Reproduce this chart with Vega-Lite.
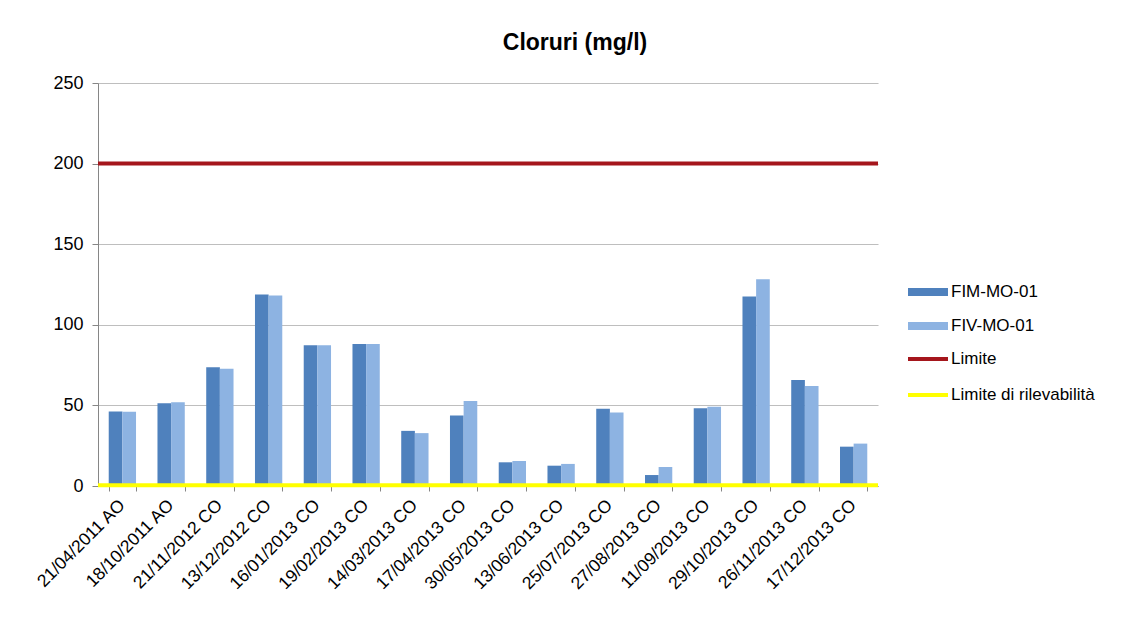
{
  "$schema": "https://vega.github.io/schema/vega-lite/v6.json",
  "autosize": "none",
  "width": 780,
  "height": 403,
  "padding": {"left": 98, "top": 83, "right": 252, "bottom": 133},
  "background": "white",
  "config": {"font": "Liberation Sans", "view": {"stroke": null}},
  "title": {"text": "Cloruri (mg/l)", "fontSize": 23, "fontWeight": "bold", "color": "#000000", "font": "Liberation Sans", "anchor": "middle", "dx": 87, "offset": 19},
  "datasets": {
    "bars": [
      {"data": "21/04/2011 AO", "serie": "FIM-MO-01", "valore": 46.2},
      {"data": "21/04/2011 AO", "serie": "FIV-MO-01", "valore": 46.0},
      {"data": "18/10/2011 AO", "serie": "FIM-MO-01", "valore": 51.4},
      {"data": "18/10/2011 AO", "serie": "FIV-MO-01", "valore": 52.0},
      {"data": "21/11/2012 CO", "serie": "FIM-MO-01", "valore": 73.6},
      {"data": "21/11/2012 CO", "serie": "FIV-MO-01", "valore": 72.8},
      {"data": "13/12/2012 CO", "serie": "FIM-MO-01", "valore": 118.8},
      {"data": "13/12/2012 CO", "serie": "FIV-MO-01", "valore": 118.2},
      {"data": "16/01/2013 CO", "serie": "FIM-MO-01", "valore": 87.3},
      {"data": "16/01/2013 CO", "serie": "FIV-MO-01", "valore": 87.3},
      {"data": "19/02/2013 CO", "serie": "FIM-MO-01", "valore": 88.1},
      {"data": "19/02/2013 CO", "serie": "FIV-MO-01", "valore": 88.1},
      {"data": "14/03/2013 CO", "serie": "FIM-MO-01", "valore": 34.2},
      {"data": "14/03/2013 CO", "serie": "FIV-MO-01", "valore": 32.8},
      {"data": "17/04/2013 CO", "serie": "FIM-MO-01", "valore": 43.7},
      {"data": "17/04/2013 CO", "serie": "FIV-MO-01", "valore": 52.7},
      {"data": "30/05/2013 CO", "serie": "FIM-MO-01", "valore": 14.7},
      {"data": "30/05/2013 CO", "serie": "FIV-MO-01", "valore": 15.5},
      {"data": "13/06/2013 CO", "serie": "FIM-MO-01", "valore": 12.6},
      {"data": "13/06/2013 CO", "serie": "FIV-MO-01", "valore": 13.7},
      {"data": "25/07/2013 CO", "serie": "FIM-MO-01", "valore": 47.9},
      {"data": "25/07/2013 CO", "serie": "FIV-MO-01", "valore": 45.6},
      {"data": "27/08/2013 CO", "serie": "FIM-MO-01", "valore": 6.8},
      {"data": "27/08/2013 CO", "serie": "FIV-MO-01", "valore": 11.8},
      {"data": "11/09/2013 CO", "serie": "FIM-MO-01", "valore": 48.3},
      {"data": "11/09/2013 CO", "serie": "FIV-MO-01", "valore": 49.1},
      {"data": "29/10/2013 CO", "serie": "FIM-MO-01", "valore": 117.5},
      {"data": "29/10/2013 CO", "serie": "FIV-MO-01", "valore": 128.3},
      {"data": "26/11/2013 CO", "serie": "FIM-MO-01", "valore": 65.7},
      {"data": "26/11/2013 CO", "serie": "FIV-MO-01", "valore": 62.0},
      {"data": "17/12/2013 CO", "serie": "FIM-MO-01", "valore": 24.4},
      {"data": "17/12/2013 CO", "serie": "FIV-MO-01", "valore": 26.3}
    ],
    "limits": [
      {"linea": "Limite", "valore": 200},
      {"linea": "Limite di rilevabilità", "valore": 0.5}
    ]
  },
  "layer": [
    {
      "data": {"name": "bars"},
      "mark": {"type": "bar"},
      "encoding": {
        "x": {
          "field": "data", "type": "nominal", "sort": null,
          "scale": {"paddingInner": 0.44, "paddingOuter": 0.22},
          "axis": {"title": null, "labelAngle": -45, "labelFontSize": 17.5, "labelColor": "#000000", "labelFont": "Liberation Sans", "tickBand": "extent", "tickColor": "#868686", "tickSize": 5, "domainColor": "#868686", "grid": false, "labelPadding": 5, "labelOffset": -7, "labelLimit": 200}
        },
        "xOffset": {"field": "serie", "type": "nominal", "sort": null, "scale": {"paddingInner": 0, "paddingOuter": 0}},
        "y": {
          "field": "valore", "type": "quantitative",
          "scale": {"domain": [0, 250], "nice": false},
          "axis": {"title": null, "values": [0, 50, 100, 150, 200, 250], "labelFontSize": 18, "labelColor": "#000000", "labelFont": "Liberation Sans", "labelPadding": 9, "tickSize": 6, "tickColor": "#868686", "domainColor": "#868686", "gridColor": "#BEBEBE", "gridWidth": 1.2}
        },
        "color": {
          "field": "serie", "type": "nominal",
          "scale": {"domain": ["FIM-MO-01", "FIV-MO-01"], "range": ["#4F81BD", "#8DB3E2"]},
          "legend": {"title": null, "orient": "none", "legendX": 810, "legendY": 189, "symbolType": "M-1,-0.2H1V0.2H-1Z", "symbolSize": 1600, "symbolStrokeWidth": 0, "labelFontSize": 17, "labelColor": "#000000", "labelFont": "Liberation Sans", "rowPadding": 6, "labelOffset": 3}
        }
      }
    },
    {
      "data": {"name": "limits"},
      "mark": {"type": "rule", "strokeWidth": 4},
      "encoding": {
        "y": {"field": "valore", "type": "quantitative"},
        "stroke": {
          "field": "linea", "type": "nominal",
          "scale": {"domain": ["Limite", "Limite di rilevabilità"], "range": ["#A5161C", "#FFFF00"]},
          "legend": {"title": null, "orient": "none", "legendX": 808, "legendY": 254, "symbolType": "stroke", "symbolSize": 1600, "symbolStrokeWidth": 4, "labelFontSize": 17, "labelColor": "#000000", "labelFont": "Liberation Sans", "rowPadding": 6, "labelOffset": 1}
        }
      }
    }
  ]
}
